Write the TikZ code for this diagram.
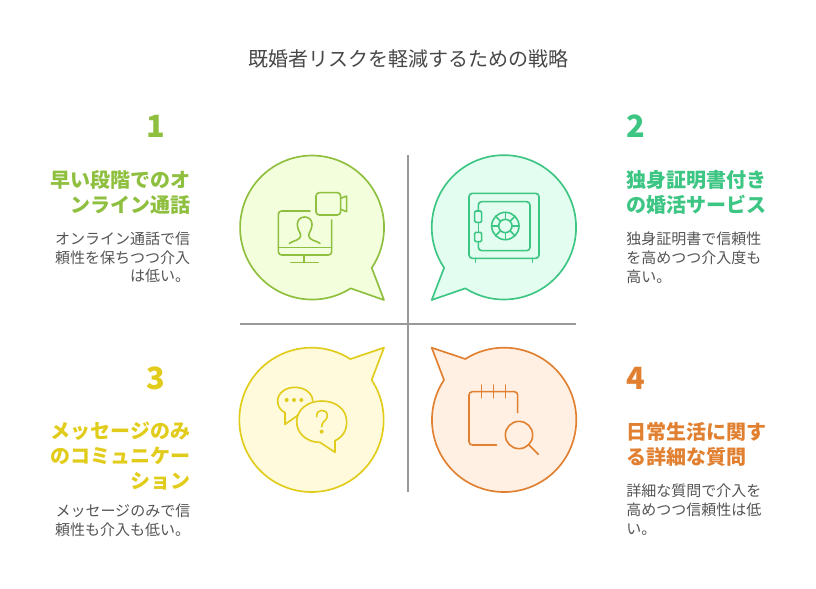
\documentclass[tikz,border=0pt]{standalone}
\usepackage{fontspec}
\setmainfont{Noto Sans CJK JP}
\definecolor{gnLine}{HTML}{8FBF3F}
\definecolor{gnFill}{HTML}{F3FEDC}
\definecolor{tlLine}{HTML}{3CC583}
\definecolor{tlFill}{HTML}{E3FDF0}
\definecolor{ylLine}{HTML}{E2CC1B}
\definecolor{ylFill}{HTML}{FEFADB}
\definecolor{orLine}{HTML}{E08030}
\definecolor{orFill}{HTML}{FFF0E3}
\tikzset{
  bubble/.style={line width=1.25pt, line join=round},
  icon/.style={line width=1.2pt, line cap=round, line join=round, rounded corners=2.5pt},
  zoomed/.style={x=0.25pt, y=-0.25pt},
  numtext/.style={inner sep=0pt, font=\fontsize{23}{23}\selectfont\bfseries},
  headtext/.style={inner sep=0pt, font=\fontsize{15}{18.75}\selectfont\bfseries},
  bodytext/.style={inner sep=0pt, text=black!67, font=\fontsize{11.25}{14.1}\selectfont},
  axisline/.style={black!40, line width=1.1pt}
}

\begin{document}
\begin{tikzpicture}[x=0.75pt, y=-0.75pt]

\useasboundingbox (0,0) rectangle (816,588);

% title
\node[inner sep=0pt, text=black!72, font=\fontsize{15}{18}\selectfont] (title) at (408,59) {既婚者リスクを軽減するための戦略};

% axes
\coordinate (axisTop) at (408,155);
\coordinate (axisBottom) at (408,492);
\coordinate (axisLeft) at (240,324);
\coordinate (axisRight) at (576,324);
\draw[axisline] (axisTop) -- (axisBottom);
\draw[axisline] (axisLeft) -- (axisRight);

% bubble 1
\begin{scope}[shift={(230,145)}, zoomed]
\draw[bubble, draw=gnLine, fill=gnFill] (362,430) arc[start angle=57.6, end angle=394.06, radius=216] -- (462,465) -- cycle;
\begin{scope}[icon, draw=gnLine]
\draw (240,198) -- (145,198) -- (145,330) -- (305,330) -- (305,225);
\draw (145,308) -- (305,308);
\draw (222,332) -- (222,352);
\draw (182,352) -- (265,352);
\draw[rounded corners=0pt] (178,295) .. controls (190,287) and (212,285) .. (212,272) .. controls (212,262) and (202,255) .. (202,238) .. controls (202,224) and (212,216) .. (224,216) .. controls (236,216) and (246,224) .. (246,238) .. controls (246,255) and (236,262) .. (236,272) .. controls (236,285) and (258,287) .. (270,295);
\draw (258,143) rectangle (332,210);
\draw[rounded corners=0pt] (332,160) -- (350,153) -- (350,200) -- (332,193);
\end{scope}
\end{scope}

% bubble 2
\begin{scope}[shift={(405,145)}, zoomed]
\draw[bubble, draw=tlLine, fill=tlFill] (181,430) arc[start angle=122.3, end angle=-214.1, radius=216.5] -- (80,465) -- cycle;
\begin{scope}[icon, draw=tlLine]
\draw (192,145) rectangle (402,340);
\draw (212,340) -- (212,352);
\draw (382,340) -- (382,352);
\draw (220,198) -- (220,170) -- (375,170) -- (375,317) -- (220,317) -- (220,290);
\draw (220,232) -- (220,262);
\draw[rounded corners=1pt] (209,198) rectangle (230,232);
\draw[rounded corners=1pt] (209,262) rectangle (230,290);
\draw (301,243) circle [radius=41];
\draw (301,243) circle [radius=20];
\foreach \ang in {0,45,...,315}
  \draw (301,243) ++(\ang:20) -- ++(\ang:21);
\end{scope}
\end{scope}

% bubble 3
\begin{scope}[shift={(230,325)}, zoomed]
\draw[bubble, draw=ylLine, fill=ylFill] (425,165) arc[start angle=-33.5, end angle=302.6, radius=216.5] -- (462,68) -- cycle;
\begin{scope}[icon, draw=ylLine, rounded corners=0pt]
\draw (205,270) -- (165,298) -- (165,263) .. controls (150,255) and (143,243) .. (143,228) .. controls (143,203) and (168,187) .. (195,187) .. controls (225,187) and (248,205) .. (248,228);
\draw (315,347) .. controls (340,335) and (350,315) .. (350,290) .. controls (350,255) and (320,228) .. (275,228) .. controls (232,228) and (200,255) .. (200,290) .. controls (200,325) and (230,352) .. (270,352) -- (315,382) -- cycle;
\fill[ylLine] (170,225) circle [radius=6];
\fill[ylLine] (192,225) circle [radius=6];
\fill[ylLine] (214,225) circle [radius=6];
\draw (260,275) .. controls (258,250) and (292,250) .. (292,272) .. controls (292,288) and (275,288) .. (275,305);
\fill[ylLine] (275,320) circle [radius=6];
\end{scope}
\end{scope}

% bubble 4
\begin{scope}[shift={(405,325)}, zoomed]
\draw[bubble, draw=orLine, fill=orFill] (181,102) arc[start angle=237.5, end angle=573.6, radius=216.5] -- (80,68) -- cycle;
\begin{scope}[icon, draw=orLine]
\draw (275,360) -- (192,360) -- (192,200) -- (338,200) -- (338,263);
\draw (230,180) -- (230,218);
\draw (265,180) -- (265,218);
\draw (301,180) -- (301,218);
\draw (342,330) circle [radius=41];
\draw (372,360) -- (400,388);
\end{scope}
\end{scope}

% nodes left
{
\node[numtext, text=gnLine] (numOne) at (156,126) {1};
\node[headtext, text=gnLine, anchor=north east, align=right] (headOne) at (190.5,170) {早い段階でのオ\\ンライン通話};
\node[bodytext, anchor=north east, align=right] (bodyOne) at (190.5,231.5) {オンライン通話で信\\頼性を保ちつつ介入\\は低い。};

\node[numtext, text=ylLine] (numThree) at (156,378) {3};
\node[headtext, text=ylLine, anchor=north east, align=right] (headThree) at (190.5,422) {メッセージのみ\\のコミュニケー\\ション};
\node[bodytext, anchor=north east, align=right] (bodyThree) at (190.5,504) {メッセージのみで信\\頼性も介入も低い。};
}

% nodes right
{
\node[numtext, text=tlLine] (numTwo) at (636,126) {2};
\node[headtext, text=tlLine, anchor=north west, align=left] (headTwo) at (626,170) {独身証明書付き\\の婚活サービス};
\node[bodytext, anchor=north west, align=left] (bodyTwo) at (626,231.5) {独身証明書で信頼性\\を高めつつ介入度も\\高い。};

\node[numtext, text=orLine] (numFour) at (636,378) {4};
\node[headtext, text=orLine, anchor=north west, align=left] (headFour) at (626,422) {日常生活に関す\\る詳細な質問};
\node[bodytext, anchor=north west, align=left] (bodyFour) at (626,484) {詳細な質問で介入を\\高めつつ信頼性は低\\い。};
}

\end{tikzpicture}
\end{document}
